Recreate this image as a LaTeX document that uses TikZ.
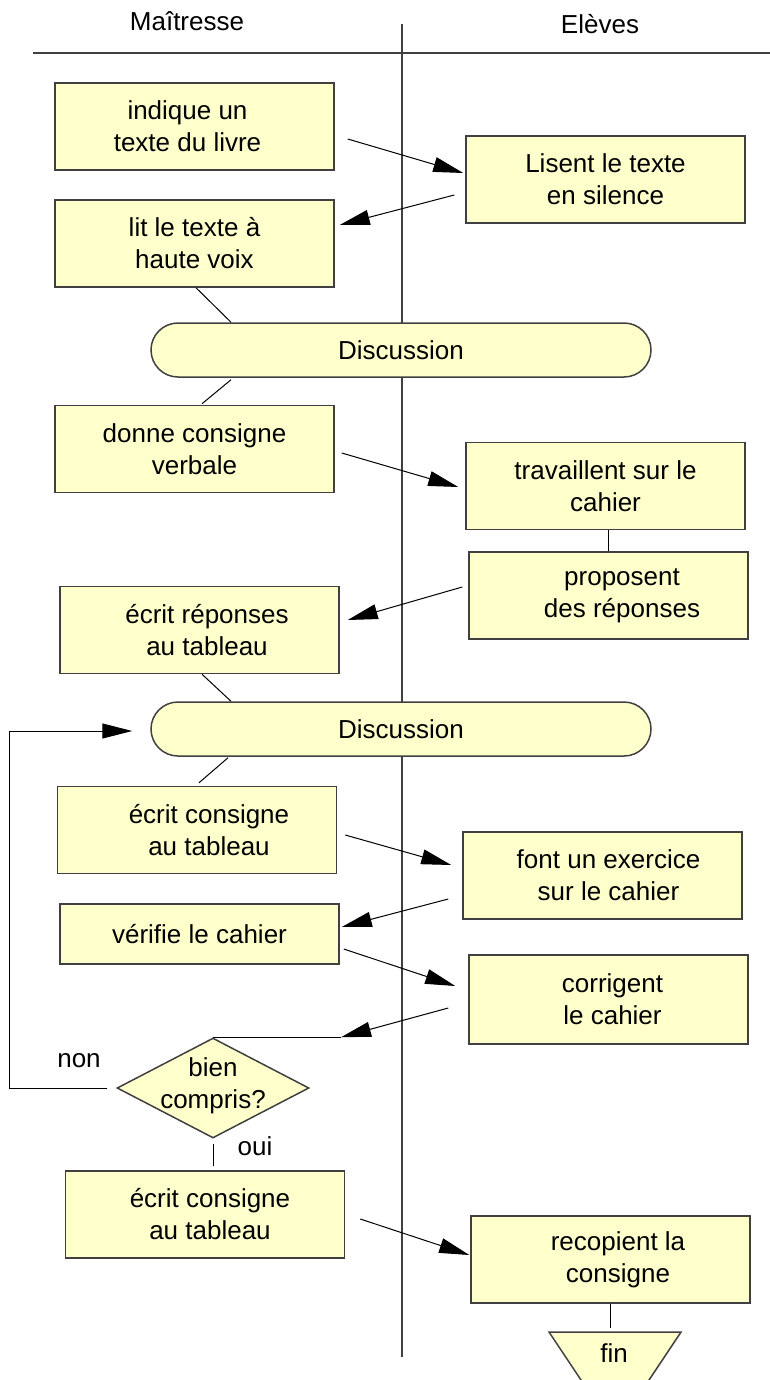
\documentclass[tikz,border=0pt]{standalone}
\usepackage{fontspec}
\setmainfont{Liberation Sans}
\usetikzlibrary{arrows.meta,shapes.geometric}

\definecolor{fondjaune}{HTML}{FFFFCC}
\definecolor{traitgris}{HTML}{404040}

\begin{document}
\begin{tikzpicture}[x=0.5pt, y=0.5pt,
  every node/.style={font=\fontsize{13}{16}\selectfont},
  tache/.style={draw=traitgris, line width=0.75pt, fill=fondjaune, align=center,
    minimum width=139.5pt, minimum height=43.5pt, inner sep=0pt},
  discu/.style={draw=traitgris, line width=0.75pt, fill=fondjaune, rounded corners=13.5pt,
    minimum width=250pt, minimum height=27pt, inner sep=0pt},
  question/.style={diamond, draw=traitgris, line width=0.75pt, fill=fondjaune,
    minimum width=96pt, minimum height=50pt, inner sep=0pt},
  couloir/.style={draw=traitgris, line width=0.75pt},
  trait/.style={line width=0.5pt},
  fleche/.style={-{Triangle[length=15pt, width=7.5pt]}, line width=0.5pt}]
\useasboundingbox (0,0) rectangle (770,-1380);

\node (maitresse) at (187,-21) {Maîtresse};
\node (eleves) at (600,-24) {Elèves};
\draw[couloir] (33,-53) -- (770,-53);
\draw[couloir] (402,-24) -- (402,-1357);

\node[tache] (m1) at (194.5,-126.5) {indique un\hspace*{7pt}\\texte du livre\hspace*{7pt}};
\node[tache] (e1) at (605.5,-179.5) {Lisent le texte\\en silence};
\node[tache] (m2) at (194.5,-243.5) {lit le texte à\\haute voix};
\node[discu] (d1) at (401,-350) {Discussion};
\node[tache] (m3) at (194.5,-449) {donne consigne\\verbale};
\node[tache] (e2) at (605.5,-486) {travaillent sur le\\cahier};
\node[tache] (e3) at (608.5,-595.5) {\hspace*{13.5pt}proposent\\\hspace*{13.5pt}des réponses};
\node[tache] (m4) at (199.5,-630) {\hspace*{7.5pt}écrit réponses\\\hspace*{7.5pt}au tableau};
\node[discu] (d2) at (401,-729) {Discussion};
\node[tache] (m5) at (197,-830) {\hspace*{12pt}écrit consigne\\\hspace*{12pt}au tableau};
\node[tache] (e4) at (602.5,-875.5) {\hspace*{6pt}font un exercice\\\hspace*{6pt}sur le cahier};
\node[tache, minimum height=30pt] (m6) at (199.5,-934) {vérifie le cahier};
\node[tache, minimum height=44.5pt] (e5) at (608.5,-999.5) {\hspace*{4pt}corrigent\\\hspace*{4pt}le cahier};
\node[question] (q) at (213,-1088) {};
\node[align=center] (qtexte) at (213,-1086) {bien\\compris?};
\node (non) at (79,-1061) {non};
\node (oui) at (255,-1146) {oui};
\node[tache] (m7) at (205,-1214.5) {\hspace*{5pt}écrit consigne\\\hspace*{5pt}au tableau};
\node[tache] (e6) at (610.5,-1259.5) {\hspace*{7.5pt}recopient la\\\hspace*{7.5pt}consigne};
\draw[couloir, fill=fondjaune] (549,-1332) -- (681,-1332) -- (639,-1395) -- (591,-1395) -- cycle;
\coordinate (finhaut) at (610.5,-1332);
\node (fin) at (614,-1353) {fin};

\draw[fleche] ([shift={(13,-12.5)}]m1.east) -- ([shift={(-2,6.5)}]e1.west);
\draw[fleche] ([shift={(-11,-15.5)}]e1.west) -- ([shift={(5,18.5)}]m2.east);
\draw[trait] ([shift={(1.5,0)}]m2.south) -- ([shift={(-170,0)}]d1.north);
\draw[trait] ([shift={(-170,-2)}]d1.south) -- ([shift={(7.5,1)}]m3.north);
\draw[fleche] ([shift={(7,-4)}]m3.east) -- ([shift={(-7,-1)}]e2.west);
\draw[trait] (e3.north |- e2.south) -- (e3.north);
\draw[fleche] ([shift={(-6,8.5)}]e3.west) -- ([shift={(8,10)}]m4.east);
\draw[trait] ([shift={(2.5,0)}]m4.south) -- ([shift={(-170,0)}]d2.north);
\draw[trait] ([shift={(-173,-1)}]d2.south) -- ([shift={(2,3)}]m5.north);
\draw[fleche] ([shift={(8,-5)}]m5.east) -- ([shift={(-11,10.5)}]e4.west);
\draw[fleche] ([shift={(-14,-23.5)}]e4.west) -- ([shift={(2,7)}]m6.east);
\draw[fleche] ([shift={(4,-15)}]m6.east) -- ([shift={(-13,13.5)}]e5.west);
\coordinate (qrenvoi) at ([shift={(128,0)}]q.north);
\draw[fleche] ([shift={(-20,-8.5)}]e5.west) -- (qrenvoi);
\draw[trait] (q.north) -- (qrenvoi);
\draw[fleche] ([shift={(-9,0)}]q.west) -- ([shift={(-107,0)}]q.west) |- ([shift={(-18,-2)}]d2.west);
\draw[trait] ([shift={(0,-5)}]q.south) -- ([shift={(8,4)}]m7.north);
\draw[fleche] ([shift={(15,-4.5)}]m7.east) -- ([shift={(-1,4.5)}]e6.west);
\draw[trait] (e6.south) -- ([shift={(0,4)}]finhaut);
\end{tikzpicture}
\end{document}
